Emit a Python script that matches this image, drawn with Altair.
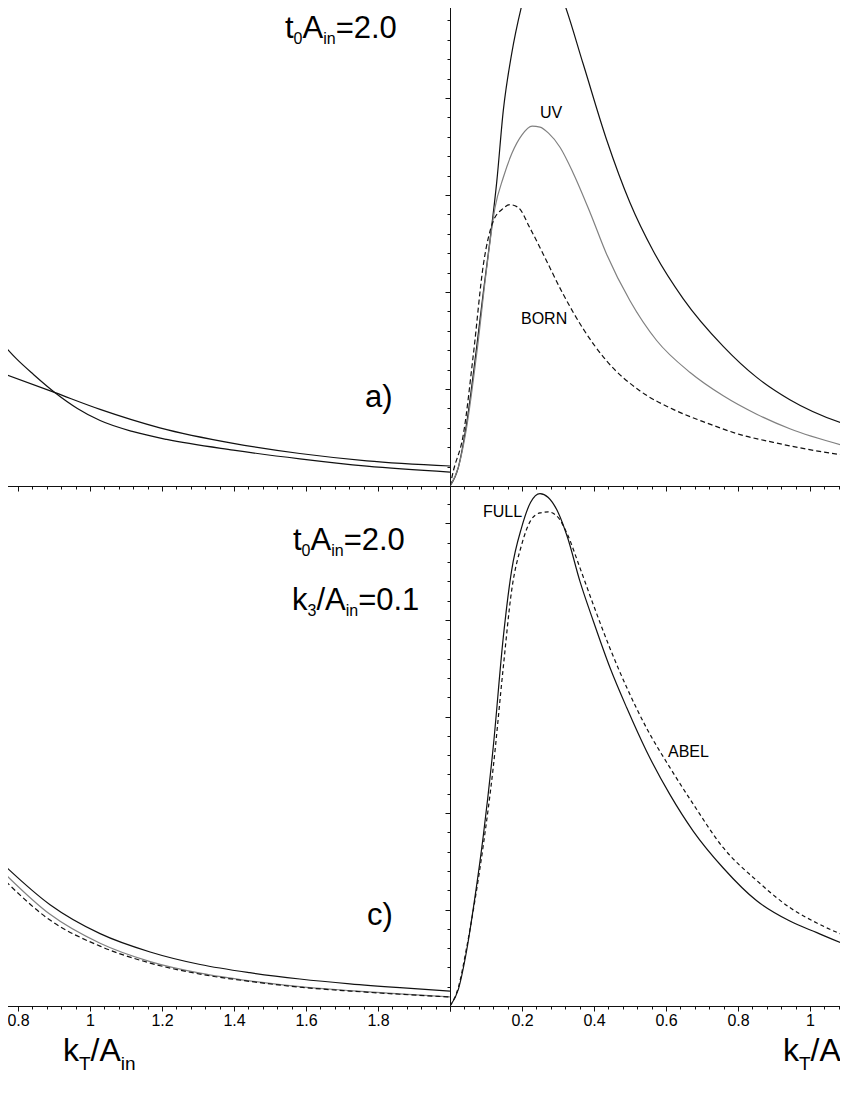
import altair as alt
import pandas as pd

FONT = "Liberation Sans"
INK = "#111111"
GREY = "#808080"

# ---------------- panel a) (upper left), k_T/A_in visible from 0.75 to 2.0
A_K_STEEP = [0.75, 0.796, 0.843, 0.903, 0.965, 1.028, 1.12, 1.213, 1.398, 1.583, 1.769, 2.0]
A_STEEP = [1.495, 1.31, 1.15, 0.962, 0.80, 0.675, 0.56, 0.48, 0.37, 0.28, 0.205, 0.144]
A_K_FLAT = [0.75, 0.903, 1.028, 1.194, 1.398, 1.583, 1.769, 2.0]
A_FLAT = [1.17, 0.962, 0.79, 0.60, 0.44, 0.335, 0.26, 0.206]

# ---------------- panel b) (upper right), k_T/A_in from 0
B_K_FULL = [0, 0.023, 0.046, 0.074, 0.093, 0.111, 0.13, 0.148, 0.171, 0.199, 0.213,
            0.23, 0.25, 0.27, 0.29, 0.315, 0.37, 0.435, 0.5, 0.565, 0.648, 0.759,
            0.852, 0.944, 1.111, 1.2]
B_FULL = [0, 0.19, 0.64, 1.43, 2.01, 2.53, 3.14, 3.87, 4.45, 4.95, 5.15,
          5.35, 5.45, 5.4, 5.22, 5.0, 4.35, 3.57, 2.92, 2.42, 1.93, 1.44,
          1.12, 0.89, 0.62, 0.53]
B_K_UV = [0, 0.023, 0.046, 0.075, 0.102, 0.125, 0.148, 0.172, 0.2, 0.228, 0.25,
          0.273, 0.306, 0.343, 0.389, 0.435, 0.5, 0.574, 0.667, 0.759, 0.852,
          0.944, 1.111, 1.2]
B_UV = [0, 0.19, 0.6, 1.39, 2.25, 2.87, 3.18, 3.43, 3.62, 3.71, 3.7,
        3.64, 3.49, 3.22, 2.82, 2.39, 1.91, 1.50, 1.17, 0.93, 0.74,
        0.59, 0.40, 0.32]
B_K_BORN = [0, 0.009, 0.037, 0.065, 0.093, 0.12, 0.144, 0.167, 0.19, 0.222, 0.259,
            0.314, 0.37, 0.435, 0.528, 0.62, 0.713, 0.806, 0.898, 0.991, 1.111, 1.2]
B_BORN = [0, 0.15, 0.53, 1.36, 2.29, 2.73, 2.85, 2.9, 2.87, 2.66, 2.39,
          1.98, 1.62, 1.29, 0.98, 0.79, 0.65, 0.53, 0.45, 0.38, 0.31, 0.27]

# ---------------- panel c) (lower left)
C_K = [0.75, 0.889, 1.028, 1.167, 1.306, 1.444, 1.583, 1.722, 1.861, 2.0]
C_FULL = [1.50, 1.05, 0.75, 0.56, 0.43, 0.345, 0.28, 0.23, 0.19, 0.155]
C_GREY = [1.42, 0.95, 0.65, 0.46, 0.34, 0.26, 0.20, 0.16, 0.125, 0.095]
C_DASH = [1.35, 0.89, 0.62, 0.445, 0.33, 0.255, 0.195, 0.155, 0.122, 0.093]

# ---------------- panel d) (lower right)
D_K = [0, 0.023, 0.046, 0.069, 0.093, 0.12, 0.148, 0.171, 0.199, 0.224, 0.25,
       0.273, 0.301, 0.327, 0.361, 0.398, 0.444, 0.491, 0.546, 0.611, 0.676,
       0.759, 0.852, 0.944, 1.019, 1.111, 1.2]
D_FULL = [0, 0.17, 0.57, 1.12, 1.78, 2.68, 3.82, 4.51, 4.96, 5.22, 5.31,
          5.27, 5.11, 4.85, 4.40, 3.99, 3.51, 3.09, 2.64, 2.19, 1.81,
          1.43, 1.09, 0.88, 0.76, 0.62, 0.52]
D_ABEL = [0, 0.19, 0.6, 1.09, 1.68, 2.47, 3.51, 4.30, 4.78, 5.03, 5.11,
          5.12, 5.06, 4.88, 4.54, 4.16, 3.71, 3.30, 2.88, 2.47, 2.09,
          1.64, 1.30, 1.02, 0.86, 0.71, 0.61]

# panel geometry (pixels)
W_LEFT, W_RIGHT = 450, 410
H_TOP, H_BOT = 485, 520
PX_PER_X = 360.0
PX_PER_Y_TOP = 97.0
PX_PER_Y_BOT = 96.5
X_DOM_LEFT = [2.0 - W_LEFT / PX_PER_X, 2.0]
X_DOM_RIGHT = [0.0, W_RIGHT / PX_PER_X]
Y_DOM_TOP = [0.0, H_TOP / PX_PER_Y_TOP]
Y_DOM_BOT = [0.0, H_BOT / PX_PER_Y_BOT]

# tick positions (major every 0.2 / 1, minor in between), kept inside each domain
X_TICKS_LEFT = [round(0.76 + 0.04 * i, 2) for i in range(32)]
X_TICKS_RIGHT = [round(0.04 * i, 2) for i in range(29)]
Y_TICKS_TOP = [round(0.2 * i, 1) for i in range(26)]
Y_TICKS_BOT = [round(0.2 * i, 1) for i in range(27)]

MAJOR_X = "abs(datum.value*5 - round(datum.value*5)) < 0.001"
MAJOR_Y = "abs(datum.value - round(datum.value)) < 0.001"


def x_axis(values, label_test=None):
    kw = dict(values=values, title=None, grid=False, orient="bottom",
              domainColor=INK, domainWidth=1, tickColor=INK, tickWidth=1,
              tickSize={"condition": {"test": MAJOR_X, "value": 5}, "value": 3})
    if label_test:
        kw.update(labels=True,
                  labelExpr=f"(({MAJOR_X}) && ({label_test})) ? format(datum.value, '~g') : ''",
                  labelFont=FONT, labelFontSize=16, labelColor="#000000",
                  labelPadding=1, labelOverlap=False, labelFlush=False, labelBound=False)
    else:
        kw["labels"] = False
    return alt.Axis(**kw)


def y_axis(values):
    return alt.Axis(values=values, title=None, grid=False, orient="left", labels=False,
                    domainColor=INK, domainWidth=1, tickColor=INK, tickWidth=1,
                    tickSize={"condition": {"test": MAJOR_Y, "value": 5}, "value": 3})


def encs(xdom, xaxis, ydom, yaxis):
    xe = alt.X("k:Q", scale=alt.Scale(domain=xdom, nice=False, zero=False), axis=xaxis)
    ye = alt.Y("v:Q", scale=alt.Scale(domain=ydom, nice=False, zero=False), axis=yaxis)
    return xe, ye


def curve(ks, vs, xe, ye, color=INK, dash=None, width=1.2):
    kw = dict(color=color, strokeWidth=width, clip=True, interpolate="monotone")
    if dash:
        kw["strokeDash"] = dash
    return alt.Chart(pd.DataFrame({"k": ks, "v": vs})).mark_line(**kw).encode(x=xe, y=ye)


ONE_ROW = alt.Data(values=[{}])
ADV = {"t": 0.278, "A": 0.667, "i": 0.222, "n": 0.556, "=": 0.584, "2": 0.556,
       ".": 0.278, "0": 0.556, "1": 0.556, "3": 0.556, "k": 0.5, "/": 0.278, "T": 0.611}


def txt(s, x, y, size):
    return alt.Chart(ONE_ROW).mark_text(text=s, font=FONT, fontSize=size, color="#000000",
                                        align="left", baseline="alphabetic").encode(
        x=alt.value(x), y=alt.value(y))


def sub_text(parts, x0, base, main, sub, drop):
    out = []
    x = x0
    for s, is_sub in parts:
        size = sub if is_sub else main
        out.append(txt(s, x, base + (drop if is_sub else 0), size))
        x += sum(ADV[c] for c in s) * size
    return out


T0 = [("t", False), ("0", True), ("A", False), ("in", True), ("=2.0", False)]
K3 = [("k", False), ("3", True), ("/", False), ("A", False), ("in", True), ("=0.1", False)]
KT = [("k", False), ("T", True), ("/", False), ("A", False), ("in", True)]

# panel a
xe, ye = encs(X_DOM_LEFT, x_axis(X_TICKS_LEFT), Y_DOM_TOP, None)
pa = alt.layer(
    curve(A_K_STEEP, A_STEEP, xe, ye),
    curve(A_K_FLAT, A_FLAT, xe, ye),
    *sub_text(T0, 285, 37, 31, 16, 6),
    txt("a)", 365, 406, 31),
).properties(width=W_LEFT, height=H_TOP)

# panel b
xe, ye = encs(X_DOM_RIGHT, x_axis(X_TICKS_RIGHT), Y_DOM_TOP, y_axis(Y_TICKS_TOP))
pb = alt.layer(
    curve(B_K_FULL, B_FULL, xe, ye),
    curve(B_K_UV, B_UV, xe, ye, color=GREY),
    curve(B_K_BORN, B_BORN, xe, ye, dash=[5, 3]),
    txt("UV", 90, 117, 16),
    txt("BORN", 71, 323, 16),
).properties(width=W_RIGHT, height=H_TOP)

# panel c
xe, ye = encs(X_DOM_LEFT, x_axis(X_TICKS_LEFT, "datum.value < 1.99"), Y_DOM_BOT, None)
pc = alt.layer(
    curve(C_K, C_FULL, xe, ye),
    curve(C_K, C_GREY, xe, ye, color=GREY),
    curve(C_K, C_DASH, xe, ye, dash=[5, 3]),
    *sub_text(T0, 293, 64, 31, 16, 6),
    *sub_text(K3, 292, 124, 31, 16, 6),
    txt("c)", 367, 439, 31),
    *sub_text(KT, 63, 575, 32, 19, 9),
).properties(width=W_LEFT, height=H_BOT)

# panel d
xe, ye = encs(X_DOM_RIGHT, x_axis(X_TICKS_RIGHT, "datum.value > 0.01"), Y_DOM_BOT, y_axis(Y_TICKS_BOT))
pd_ = alt.layer(
    curve(D_K, D_FULL, xe, ye),
    curve(D_K, D_ABEL, xe, ye, dash=[4, 3]),
    txt("FULL", 33, 31, 16),
    txt("ABEL", 218, 271, 16),
    *sub_text(KT, 333, 575, 32, 19, 9),
).properties(width=W_RIGHT, height=H_BOT)

chart = alt.concat(pa, pb, pc, pd_, columns=2, spacing=0, bounds="flush").properties(
    padding={"left": -8, "top": -8, "right": -20, "bottom": 0},
    background="white",
).configure_view(stroke="transparent", strokeWidth=0)

chart.save("out.html", embed_options={"renderer": "svg", "actions": False})
